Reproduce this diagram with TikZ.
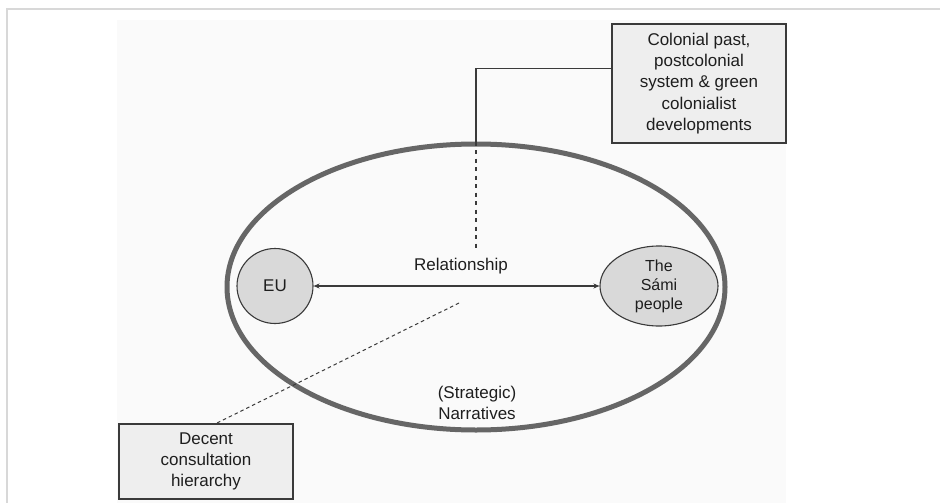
\documentclass[tikz,border=0pt]{standalone}
\usepackage{fontspec}
\setmainfont{Liberation Sans}
\usetikzlibrary{shapes.geometric,arrows.meta,calc}
\definecolor{framegray}{HTML}{D8D8D8}
\definecolor{bgfaint}{HTML}{FAFAFA}
\definecolor{ringgray}{HTML}{666666}
\definecolor{boxfill}{HTML}{EEEEEE}
\definecolor{actorfill}{HTML}{D9D9D9}
\definecolor{edgedark}{HTML}{3A3A3A}
\definecolor{txt}{HTML}{1E1E1E}
\tikzset{
  actor/.style={ellipse, draw=edgedark, fill=actorfill, line width=1.1pt, inner sep=0pt, text=txt, align=center},
  notebox/.style={rectangle, draw=edgedark, fill=boxfill, line width=1.2pt, inner sep=0pt, minimum width=174pt, text=txt, align=center, font=\fontsize{17}{21.3}\selectfont},
  label17/.style={text=txt, align=center, font=\fontsize{17}{20.5}\selectfont, inner sep=0pt},
  dashlong/.style={draw=edgedark, line width=1.1pt, dash pattern=on 4.3pt off 4.2pt},
  dashshort/.style={draw=edgedark, line width=1pt, dash pattern=on 3.5pt off 3pt},
}
\begin{document}
\begin{tikzpicture}[x=1pt,y=-1pt]
\useasboundingbox (0,0) rectangle (940,503);
\fill[white] (0,0) rectangle (940,503);
\fill[bgfaint] (117,20) rectangle (786,503);
\draw[framegray, line width=2pt] (7,503) -- (7,9.5) -- (940,9.5);

\node[draw=ringgray, ellipse, line width=5pt, minimum width=498pt, minimum height=286pt, inner sep=0pt] (narr) at (476,287) {};

\node[actor, minimum width=76pt, minimum height=75pt, font=\fontsize{17}{20}\selectfont] (eu) at (275,286) {EU};
\node[actor, minimum width=118pt, minimum height=80pt, font=\fontsize{16}{19}\selectfont] (sami) at (659,286) {The\\Sámi\\people};

\node[notebox, minimum height=119pt] (colbox) at (699,83.5) {Colonial past,\\postcolonial\\system \& green\\colonialist\\developments};
\node[notebox, minimum height=75pt] (decbox) at (206,461.5) {Decent\\consultation\\hierarchy};

\node[label17] (rel) at (461,266) {Relationship};
\node[label17] (strat) at (477,403) {(Strategic)\\Narratives};

\draw[edgedark, line width=1.1pt, {Stealth[length=6pt,width=5pt]}-{Stealth[length=6pt,width=5pt]}] (eu.east) -- (sami.west);

\coordinate (vtop) at ($(colbox.north west)!0.378!(colbox.south west)$);
\draw[edgedark, line width=1.2pt] (narr.north) |- (vtop);
\coordinate (vend) at (476,248);
\draw[dashlong] (narr.north) -- (vend);

\coordinate (dstart) at (459,303);
\coordinate (dend) at (217,423);
\draw[dashshort] (dstart) -- (dend);
\end{tikzpicture}
\end{document}
